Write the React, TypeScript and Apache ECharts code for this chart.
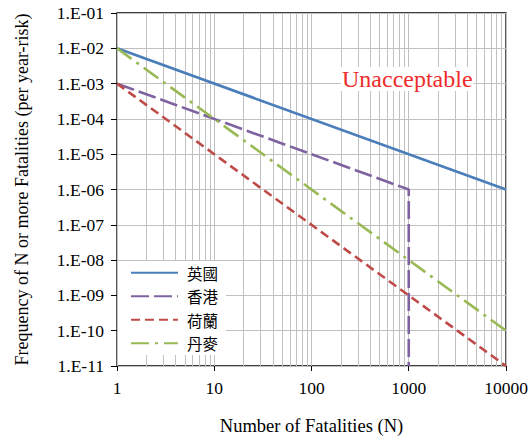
import React, { useEffect, useRef } from "react";
import * as echarts from "echarts";

// Data (log-log F-N curves)
const seriesNames = ["英國", "香港", "荷蘭", "丹麥"];
const ukX = [1, 10000];
const ukY = [1e-2, 1e-6];
const hkX = [1, 1000, 1000];
const hkY = [1e-3, 1e-6, 1e-11];
const nlX = [1, 10000];
const nlY = [1e-3, 1e-11];
const dkX = [1, 10000];
const dkY = [1e-2, 1e-10];
const minorGridX = [
  2, 3, 4, 5, 6, 7, 8, 9,
  20, 30, 40, 50, 60, 70, 80, 90,
  200, 300, 400, 500, 600, 700, 800, 900,
  2000, 3000, 4000, 5000, 6000, 7000, 8000, 9000,
];
const xTickLabels = ["1", "10", "100", "1000", "10000"];
const annotation = "Unacceptable";

const zip = (xs: number[], ys: number[]) => xs.map((x, i) => [x, ys[i]]);

const SERIF = "'Liberation Serif', 'Times New Roman', serif";

export default function App() {
  const ref = useRef<HTMLDivElement>(null);
  useEffect(() => {
    if (!ref.current) return;
    const chart = echarts.init(ref.current, undefined, { renderer: "svg" });
    const yFmt = (v: number) => {
      const e = Math.round(Math.log10(v));
      const s = String(Math.abs(e)).padStart(2, "0");
      return `1.E${e < 0 ? "-" : "+"}${s}`;
    };
    const xFmt = (v: number) => {
      const e = Math.round(Math.log10(v));
      return xTickLabels[e] ?? String(Math.round(v));
    };
    const colors = ["#4A7EBB", "#7F63A1", "#BE4B48", "#98B954"];
    const dashes: any[] = ["solid", [18, 5], [9, 5], [18, 6, 3, 6]];
    const datas = [zip(ukX, ukY), zip(hkX, hkY), zip(nlX, nlY), zip(dkX, dkY)];
    chart.setOption({
      animation: false,
      grid: {
        left: 117,
        right: 25,
        top: 13,
        bottom: 75,
        show: true,
        borderColor: "#000",
        borderWidth: 1.3,
        backgroundColor: "transparent",
      },
      xAxis: {
        type: "log",
        logBase: 10,
        min: 1,
        max: 10000,
        interval: 1,
        name: "Number of Fatalities (N)",
        nameLocation: "middle",
        nameGap: 50,
        nameTextStyle: { fontFamily: SERIF, fontSize: 18.5, color: "#000" },
        axisLine: { show: false, onZero: false },
        axisTick: { show: true, length: 5, lineStyle: { color: "#000", width: 1 } },
        axisLabel: { fontFamily: SERIF, fontSize: 17.5, color: "#000", margin: 13, formatter: xFmt },
        splitLine: { show: true, lineStyle: { color: "#c0c0c0", width: 1 } },
      },
      yAxis: {
        type: "log",
        logBase: 10,
        min: 1e-11,
        max: 1e-1,
        interval: 1,
        name: "Frequency of N or more Fatalities (per year-risk)",
        nameLocation: "middle",
        nameRotate: 90,
        nameGap: 86,
        nameTextStyle: { fontFamily: SERIF, fontSize: 18, color: "#000" },
        axisLine: { show: false, onZero: false },
        axisTick: { show: true, length: 6, lineStyle: { color: "#000", width: 1 } },
        axisLabel: { fontFamily: SERIF, fontSize: 17.5, color: "#000", margin: 13, formatter: yFmt },
        splitLine: { show: true, lineStyle: { color: "#c0c0c0", width: 1 } },
      },
      legend: {
        data: seriesNames,
        orient: "vertical",
        left: 118,
        top: 261,
        z: 6,
        backgroundColor: "#fff",
        padding: [4, 8, 4, 12],
        itemWidth: 47,
        itemHeight: 14,
        itemGap: 8,
        itemStyle: { opacity: 0 },
        textStyle: {
          fontFamily: "'Noto Sans CJK TC', sans-serif",
          fontSize: 15.5,
          color: "#000",
          padding: [0, 0, 0, 4],
        },
      },
      graphic: [
        {
          type: "text",
          left: 341,
          top: 67,
          z: 10,
          style: {
            text: annotation,
            fontFamily: SERIF,
            fontSize: 24,
            fill: "#EE2C2C",
            backgroundColor: "#fff",
            padding: [0, 1],
          },
        },
      ],
      series: [
        {
          name: "minor-grid",
          type: "line",
          data: [],
          symbol: "none",
          silent: true,
          z: 1,
          markLine: {
            z: 1,
            silent: true,
            symbol: ["none", "none"],
            label: { show: false },
            emphasis: { disabled: true },
            lineStyle: { color: "#c0c0c0", width: 1, type: "solid" },
            data: minorGridX.map((v) => ({ xAxis: v })),
          },
        },
        ...seriesNames.map((name, i) => ({
          name,
          type: "line",
          data: datas[i],
          symbol: "none",
          z: 3,
          itemStyle: { color: colors[i] },
          lineStyle: { color: colors[i], width: 2.6, type: dashes[i] },
        })),
      ],
    });
    return () => chart.dispose();
  }, []);
  return (
    <div
      ref={ref}
      style={{ position: "fixed", left: 0, top: 0, width: 531, height: 441, background: "#fff" }}
    />
  );
}
